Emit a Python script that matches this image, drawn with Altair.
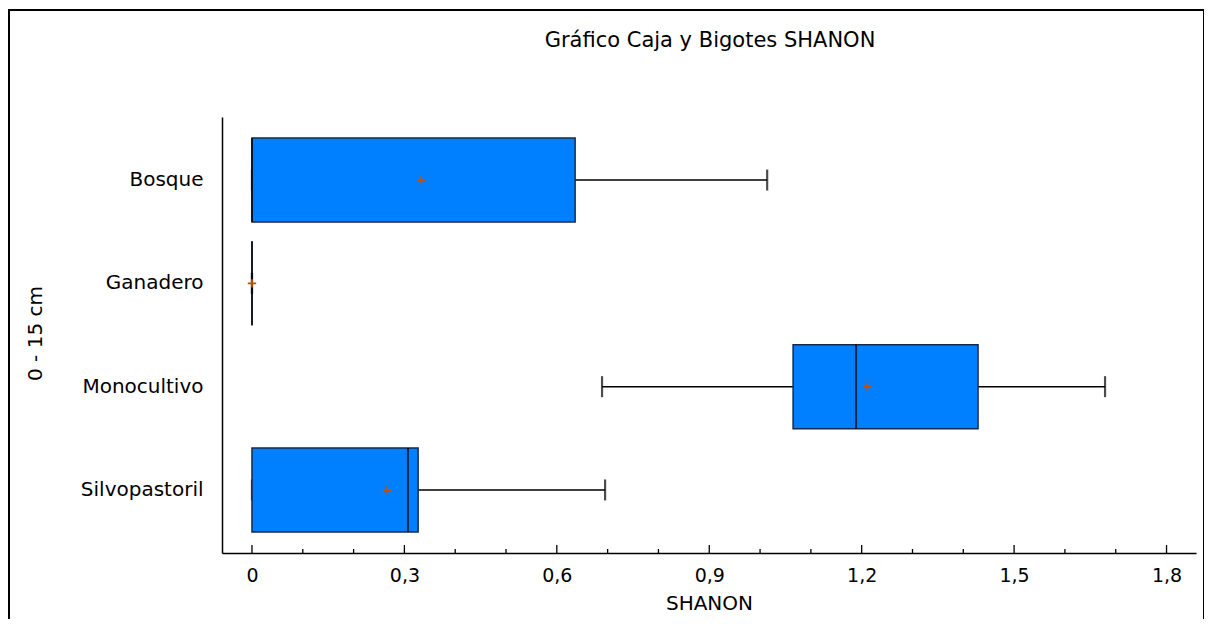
import altair as alt
import pandas as pd

categories = ["Bosque", "Ganadero", "Monocultivo", "Silvopastoril"]
whisker_low = [0.0, 0.0, 0.689, 0.0]
q1 = [0.0, 0.0, 1.065, 0.0]
median = [0.0, 0.0, 1.189, 0.307]
q3 = [0.636, 0.0, 1.429, 0.327]
whisker_high = [1.014, 0.0, 1.679, 0.695]
mean = [0.333, 0.0, 1.211, 0.266]

major_ticks = [0, 0.3, 0.6, 0.9, 1.2, 1.5, 1.8]
minor_ticks = [0.1, 0.2, 0.4, 0.5, 0.7, 0.8, 1.0, 1.1, 1.3, 1.4, 1.6, 1.7]

title_text = ["Gráfico Caja y Bigotes SHANON"]

FONT = "DejaVu Sans"
W, H = 974, 436

df = pd.DataFrame({
    "cat": categories, "low": whisker_low, "q1": q1, "median": median,
    "q3": q3, "high": whisker_high, "mean": mean,
})

xscale = alt.Scale(domain=[-0.059, 1.858], nice=False, zero=False)
yscale = alt.Scale(domain=categories, paddingInner=0.187, paddingOuter=0.2035)

xaxis = alt.Axis(
    values=major_ticks, ticks=False, grid=False, domainColor="black", domainWidth=1.5,
    labelExpr="datum.value == 0 ? '0' : replace(format(datum.value, '.1f'), '.', ',')",
    labelFont=FONT, labelFontSize=19, labelColor="black", labelPadding=13,
    title="SHANON", titleFont=FONT, titleFontSize=20, titleFontWeight="normal",
    titleColor="black", titlePadding=8,
)
yaxis = alt.Axis(
    ticks=False, grid=False, domainColor="black", domainWidth=1.5,
    labelFont=FONT, labelFontSize=20, labelColor="black", labelPadding=19,
    title="0 - 15 cm", titleFont=FONT, titleFontSize=20, titleFontWeight="normal",
    titleColor="black", titleX=-187, titleY=H / 2 - 2, titleAngle=-90,
    titleAlign="center", titleBaseline="middle",
)

base = alt.Chart(df)
ysimple = alt.Y("cat:N", scale=yscale, sort=categories)

whisk = base.mark_rule(color="black", strokeWidth=1.5).encode(
    x=alt.X("low:Q", scale=xscale, axis=xaxis), x2="high:Q",
    y=alt.Y("cat:N", scale=yscale, axis=yaxis, sort=categories))
cap_lo = base.mark_tick(color="black", size=21, thickness=2.2).encode(
    x=alt.X("low:Q", scale=xscale), y=ysimple)
cap_hi = base.mark_tick(color="black", size=21, thickness=2.2).encode(
    x=alt.X("high:Q", scale=xscale), y=ysimple)
box = base.mark_bar(color="#0080FF", stroke="#142a4c", strokeWidth=1.5).encode(
    x=alt.X("q1:Q", scale=xscale), x2="q3:Q", y=ysimple)
med = base.mark_tick(color="black", size=84, thickness=2).encode(
    x=alt.X("median:Q", scale=xscale), y=ysimple)
mn = base.mark_point(shape="M-1,0L1,0M0,-1L0,1", filled=False, stroke="#C0500A",
                     strokeWidth=1.8, size=70, opacity=1).encode(
    x=alt.X("mean:Q", scale=xscale), y=ysimple)

maj = alt.Chart(pd.DataFrame({"t": major_ticks})).mark_rule(color="black", strokeWidth=1.3).encode(
    x=alt.X("t:Q", scale=xscale), y=alt.value(H), y2=alt.value(H - 8))
mnr = alt.Chart(pd.DataFrame({"t": minor_ticks})).mark_rule(color="black", strokeWidth=1.3).encode(
    x=alt.X("t:Q", scale=xscale), y=alt.value(H), y2=alt.value(H - 4))

frame = alt.Chart(pd.DataFrame({"a": [0]})).mark_rect(
    fill=None, stroke="black", strokeWidth=2, clip=False).encode(
    x=alt.value(-213), x2=alt.value(982), y=alt.value(-107), y2=alt.value(560))

title = alt.Chart(pd.DataFrame({"t": title_text})).mark_text(
    font=FONT, fontSize=21, color="black", align="center", baseline="middle").encode(
    text="t:N", x=alt.value(W / 2 + 1), y=alt.value(-76))

chart = alt.layer(frame, whisk, cap_lo, cap_hi, box, med, mn, maj, mnr, title).properties(
    width=W, height=H,
    background="white",
    autosize=alt.AutoSizeParams(type="none"),
    padding={"left": 214, "top": 109, "right": 8, "bottom": 66},
).configure_view(stroke=None)

chart.save("out.html", embed_options={"renderer": "svg", "actions": False})
